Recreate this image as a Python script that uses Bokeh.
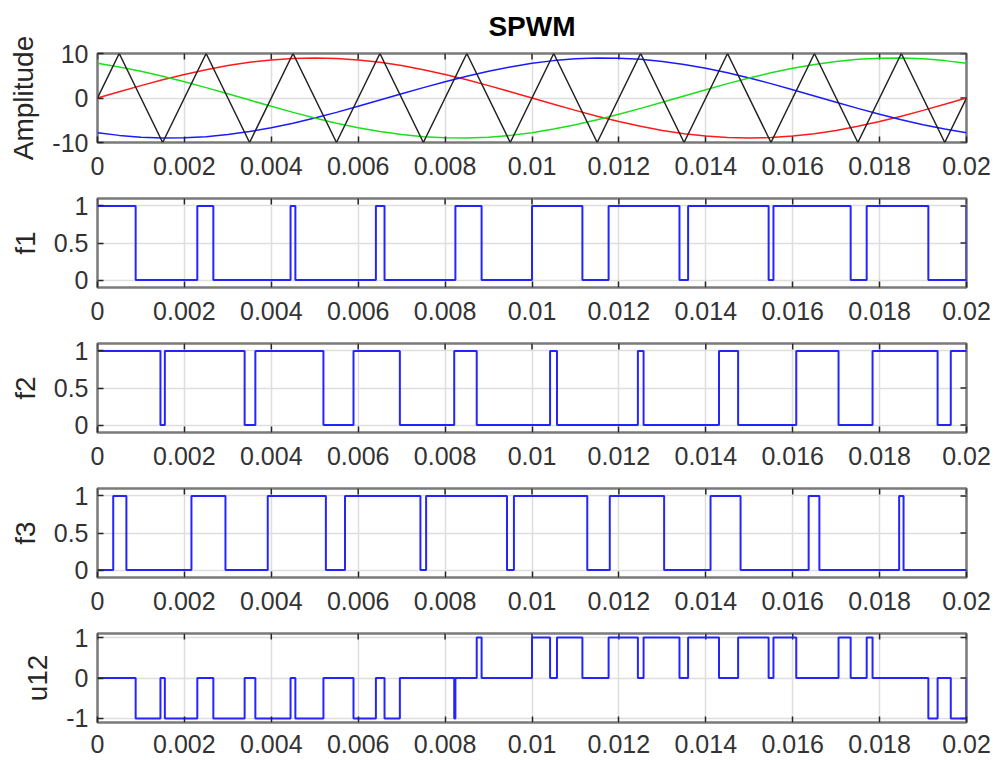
import math
from bokeh.plotting import figure
from bokeh.layouts import column
from bokeh.models import Range1d, FixedTicker
from bokeh.embed import file_html
from bokeh.resources import INLINE

# ---------------- data ----------------
X_TICKS = [0, 0.002, 0.004, 0.006, 0.008, 0.01, 0.012, 0.014, 0.016, 0.018, 0.02]
X_LABELS = ["0", "0.002", "0.004", "0.006", "0.008", "0.01", "0.012", "0.014", "0.016", "0.018", "0.02"]

# sample times of the three reference sine waves
SINE_T = [0.0, 0.0005, 0.001, 0.0015, 0.002, 0.0025, 0.003, 0.0035, 0.004, 0.0045,
          0.005, 0.0055, 0.006, 0.0065, 0.007, 0.0075, 0.008, 0.0085, 0.009, 0.0095,
          0.01, 0.0105, 0.011, 0.0115, 0.012, 0.0125, 0.013, 0.0135, 0.014, 0.0145,
          0.015, 0.0155, 0.016, 0.0165, 0.017, 0.0175, 0.018, 0.0185, 0.019, 0.0195, 0.02]
SINE_RED = [0.0, 1.41, 2.78, 4.09, 5.29, 6.36, 7.28, 8.02, 8.56, 8.89, 9.0, 8.89, 8.56, 8.02,
            7.28, 6.36, 5.29, 4.09, 2.78, 1.41, 0.0, -1.41, -2.78, -4.09, -5.29, -6.36, -7.28,
            -8.02, -8.56, -8.89, -9.0, -8.89, -8.56, -8.02, -7.28, -6.36, -5.29, -4.09, -2.78,
            -1.41, 0.0]
SINE_BLUE = [-7.79, -8.4, -8.8, -8.99, -8.95, -8.69, -8.22, -7.55, -6.69, -5.66, -4.5, -3.23,
             -1.87, -0.47, 0.94, 2.33, 3.66, 4.9, 6.02, 6.99, 7.79, 8.4, 8.8, 8.99, 8.95, 8.69,
             8.22, 7.55, 6.69, 5.66, 4.5, 3.23, 1.87, 0.47, -0.94, -2.33, -3.66, -4.9, -6.02,
             -6.99, -7.79]
SINE_GREEN = [7.79, 6.99, 6.02, 4.9, 3.66, 2.33, 0.94, -0.47, -1.87, -3.23, -4.5, -5.66, -6.69,
              -7.55, -8.22, -8.69, -8.95, -8.99, -8.8, -8.4, -7.79, -6.99, -6.02, -4.9, -3.66,
              -2.33, -0.94, 0.47, 1.87, 3.23, 4.5, 5.66, 6.69, 7.55, 8.22, 8.69, 8.95, 8.99, 8.8,
              8.4, 7.79]

# triangular carrier: vertex times and values
TRI_T = [0.0, 0.0005, 0.0015, 0.0025, 0.0035, 0.0045, 0.0055, 0.0065, 0.0075, 0.0085, 0.0095,
         0.0105, 0.0115, 0.0125, 0.0135, 0.0145, 0.0155, 0.0165, 0.0175, 0.0185, 0.0195, 0.02]
TRI_V = [0, 10, -10, 10, -10, 10, -10, 10, -10, 10, -10,
         10, -10, 10, -10, 10, -10, 10, -10, 10, -10, 0]

# switching signals: initial level and times at which the level toggles
F1_START = 1
F1_EDGES = [0.000878, 0.002297, 0.002666, 0.004443, 0.004554, 0.006407, 0.006606, 0.008237,
            0.00884, 0.01, 0.01116, 0.011763, 0.013394, 0.013593, 0.015446, 0.015557,
            0.017334, 0.017703, 0.019122, 0.02]
F2_START = 1
F2_EDGES = [0.001449, 0.00155, 0.003386, 0.003633, 0.0052, 0.005892, 0.006959, 0.00821,
            0.008728, 0.010416, 0.010576, 0.012437, 0.012568, 0.014304, 0.014744, 0.016082,
            0.017055, 0.017838, 0.019335, 0.019638]
F3_START = 0
F3_EDGES = [0.000362, 0.000665, 0.002162, 0.002945, 0.003918, 0.005256, 0.005696, 0.007432,
            0.007563, 0.009424, 0.009584, 0.011272, 0.01179, 0.013041, 0.014109, 0.0148,
            0.016367, 0.016614, 0.01845, 0.018551]
# line voltage u12: initial level, change times and new levels
U12_START = 0
U12_EDGES = [0.000878, 0.001449, 0.00155, 0.002297, 0.002666, 0.003386, 0.003633, 0.004443,
             0.004554, 0.0052, 0.005892, 0.006407, 0.006606, 0.006959, 0.00821, 0.008237,
             0.008728, 0.00884, 0.01, 0.010416, 0.010576, 0.01116, 0.011763, 0.012437,
             0.012568, 0.013394, 0.013593, 0.014304, 0.014744, 0.015446, 0.015557, 0.016082,
             0.017055, 0.017334, 0.017703, 0.017838, 0.019122, 0.019335, 0.019638, 0.02]
U12_LEVELS = [-1, 0, -1, 0, -1, 0, -1, 0, -1, 0, -1, 0, -1, 0, -1, 0,
              1, 0, 1, 0, 1, 0, 1, 0, 1, 0, 1, 0, 1, 0, 1, 0, 1, 0, 1, 0,
              -1, 0, -1, 0]

# ---------------- styling ----------------
FONT = "Liberation Sans"
TICK_FS = "25px"
LABEL_FS = "28px"
SIG_COLOR = "#2424ff"
TICK_COLOR = "#262626"


def step_xy(start, times, levels=None):
    xs, ys, cur = [0.0], [start], start
    for i, tt in enumerate(times):
        lv = (1 - cur) if levels is None else levels[i]
        xs += [tt, tt]
        ys += [cur, lv]
        cur = lv
    xs.append(0.02)
    ys.append(cur)
    return xs, ys


def panel(ylabel, yr, yticks, ylabels, top, bottom, standoff, title=None):
    p = figure(frame_width=869, frame_height=89, x_range=Range1d(0, 0.02),
               y_range=Range1d(yr[0], yr[1]), output_backend="svg", toolbar_location=None,
               min_border_left=97, min_border_right=25, min_border_top=top,
               min_border_bottom=bottom)
    if title:
        p.title.text = title
        p.title.align = "center"
        p.title.vertical_align = "top"
        p.title.text_font = FONT
        p.title.text_font_size = "28px"
        p.title.text_font_style = "bold"
        p.title.text_color = "black"
        p.title.standoff = 19
    p.outline_line_color = "#7a7a7a"
    p.outline_line_width = 2.5
    p.outline_line_alpha = 1.0
    xa = p.xaxis[0]
    xa.ticker = FixedTicker(ticks=X_TICKS)
    xa.major_label_overrides = {k: v for k, v in zip(X_TICKS, X_LABELS)}
    ya = p.yaxis[0]
    ya.ticker = FixedTicker(ticks=yticks)
    ya.major_label_overrides = {k: v for k, v in zip(yticks, ylabels)}
    ya.axis_label = ylabel
    ya.axis_label_text_font = FONT
    ya.axis_label_text_font_size = LABEL_FS
    ya.axis_label_text_font_style = "normal"
    ya.axis_label_text_color = TICK_COLOR
    ya.axis_label_standoff = 10
    for ax in (xa, ya):
        ax.major_label_text_font = FONT
        ax.major_label_text_font_size = TICK_FS
        ax.major_label_text_color = "#333333"
        ax.major_tick_in = 6
        ax.major_tick_out = 0
        ax.major_tick_line_color = TICK_COLOR
        ax.major_tick_line_width = 1.5
        ax.minor_tick_line_color = None
        ax.axis_line_color = None
    xa.major_label_standoff = standoff
    ya.major_label_standoff = 9
    # inward tick marks on the top and right edges of the box
    p.scatter(X_TICKS, [yr[1]] * len(X_TICKS), marker="dash", angle=math.pi / 2, size=12,
              line_color=TICK_COLOR, line_width=1.5)
    p.scatter([0.02] * len(yticks), yticks, marker="dash", angle=0, size=12,
              line_color=TICK_COLOR, line_width=1.5)
    p.xgrid.grid_line_color = "#dedede"
    p.ygrid.grid_line_color = "#dedede"
    p.xgrid.grid_line_width = 1.5
    p.ygrid.grid_line_width = 1.5
    return p


p1 = panel("Amplitude", (-10, 10), [-10, 0, 10], ["-10", "0", "10"], 53, 46, 14, title="SPWM")
p1.line(SINE_T, SINE_RED, color="#ff1a1a", line_width=1.5)
p1.line(SINE_T, SINE_BLUE, color="#1a1aff", line_width=1.5)
p1.line(SINE_T, SINE_GREEN, color="#1ae01a", line_width=1.5)
p1.line(TRI_T, TRI_V, color="#222222", line_width=1.5)

figs = [p1]
for name, st, ee in (("f1", F1_START, F1_EDGES), ("f2", F2_START, F2_EDGES), ("f3", F3_START, F3_EDGES)):
    p = panel(name, (-0.1, 1.1), [0, 0.5, 1], ["0", "0.5", "1"], 10, 46, 14)
    xs, ys = step_xy(st, ee)
    p.line(xs, ys, color=SIG_COLOR, line_width=2)
    figs.append(p)

p5 = panel("u12", (-1.1, 1.1), [-1, 0, 1], ["-1", "0", "1"], 10, 37, 12)
xs, ys = step_xy(U12_START, U12_EDGES, U12_LEVELS)
p5.line(xs, ys, color=SIG_COLOR, line_width=2)
figs.append(p5)

layout = column(*figs)
open("out.html", "w").write(file_html(layout, INLINE))
